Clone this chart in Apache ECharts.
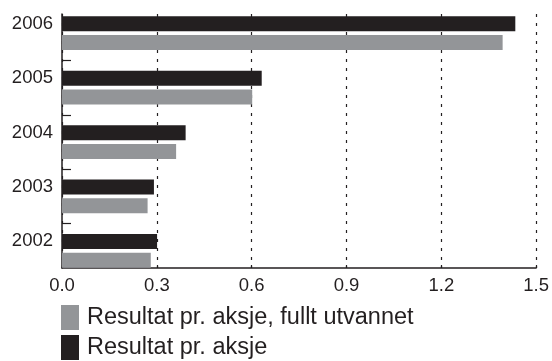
<!DOCTYPE html>
<html>
<head>
<meta charset="utf-8">
<script src="https://cdn.jsdelivr.net/npm/echarts@6/dist/echarts.min.js"></script>
<style>
  html, body { margin: 0; padding: 0; background: #fff; }
  #chart { width: 552px; height: 361px; }
</style>
</head>
<body>
<div id="chart"></div>
<script>
// Earnings per share by year
const years = ['2002', '2003', '2004', '2005', '2006'];
const epsBasic = [0.30, 0.29, 0.39, 0.63, 1.43];
const epsDiluted = [0.28, 0.27, 0.36, 0.60, 1.39];
const xTicks = [0.0, 0.3, 0.6, 0.9, 1.2, 1.5];

const nameBasic = 'Resultat pr. aksje';
const nameDiluted = 'Resultat pr. aksje, fullt utvannet';

const INK = '#231f20';
const GREY = '#939598';
const FONT = 'Liberation Sans';

// Layout: the frame (axes) and the bar area use slightly different vertical spans
const W = 552, H = 361;
const LEFT = 62, RIGHT = 14.5;
const FRAME_TOP = 14, FRAME_BOTTOM_Y = 268;
const BAR_TOP = 6, BAR_BOTTOM_Y = 278;

// Express the frame's vertical extent in category units so that
// the y ticks fall exactly between the bar groups.
const band = (BAR_BOTTOM_Y - BAR_TOP) / years.length;
const firstCenter = BAR_BOTTOM_Y - band / 2;
const frameMin = (firstCenter - FRAME_BOTTOM_Y) / band;
const frameMax = (firstCenter - FRAME_TOP) / band;
const boundaries = years.slice(1).map((_, i) => i + 0.5);

const chart = echarts.init(document.getElementById('chart'), null, { renderer: 'canvas' });

chart.setOption({
  animation: false,
  backgroundColor: '#fff',
  textStyle: { fontFamily: FONT, color: INK },
  grid: [
    { left: LEFT, right: RIGHT, top: FRAME_TOP, bottom: H - FRAME_BOTTOM_Y, containLabel: false },
    { left: LEFT, right: RIGHT, top: BAR_TOP, bottom: H - BAR_BOTTOM_Y, containLabel: false }
  ],
  xAxis: [
    {
      gridIndex: 0,
      type: 'value',
      min: xTicks[0],
      max: xTicks[xTicks.length - 1],
      interval: 0.3,
      axisLine: { show: true, onZero: false, lineStyle: { color: INK, width: 1.5 } },
      axisTick: { show: true, inside: true, length: 3, lineStyle: { color: INK, width: 1.2 } },
      axisLabel: {
        margin: 8,
        fontSize: 18.5,
        color: INK,
        fontFamily: FONT,
        formatter: v => v.toFixed(1)
      },
      splitLine: { show: true, lineStyle: { color: INK, width: 1.2, type: [3, 6] } }
    },
    {
      gridIndex: 1,
      type: 'value',
      min: xTicks[0],
      max: xTicks[xTicks.length - 1],
      show: false
    }
  ],
  yAxis: [
    {
      gridIndex: 0,
      type: 'value',
      min: frameMin,
      max: frameMax,
      axisLine: { show: true, onZero: false, lineStyle: { color: INK, width: 1.5 } },
      axisTick: {
        show: true,
        inside: true,
        length: 9,
        customValues: boundaries,
        lineStyle: { color: INK, width: 1.2 }
      },
      axisLabel: { show: false },
      splitLine: { show: false }
    },
    {
      gridIndex: 1,
      type: 'category',
      data: years,
      boundaryGap: true,
      axisLine: { show: false },
      axisTick: { show: false },
      axisLabel: {
        margin: 9,
        fontSize: 18.5,
        color: INK,
        fontFamily: FONT,
        verticalAlign: 'bottom'
      },
      splitLine: { show: false }
    }
  ],
  legend: {
    orient: 'vertical',
    left: 61,
    top: 305,
    padding: 0,
    itemWidth: 18,
    itemHeight: 25,
    itemGap: 5,
    icon: 'rect',
    data: [nameDiluted, nameBasic],
    textStyle: { fontSize: 23.5, color: INK, fontFamily: FONT, padding: [0, 0, 0, 3] }
  },
  series: [
    {
      name: nameBasic,
      type: 'bar',
      xAxisIndex: 1,
      yAxisIndex: 1,
      data: epsBasic,
      barWidth: 15,
      barGap: '25%',
      itemStyle: { color: INK },
      silent: true
    },
    {
      name: nameDiluted,
      type: 'bar',
      xAxisIndex: 1,
      yAxisIndex: 1,
      data: epsDiluted,
      barWidth: 15,
      barGap: '25%',
      itemStyle: { color: GREY },
      silent: true
    }
  ]
});
</script>
</body>
</html>
